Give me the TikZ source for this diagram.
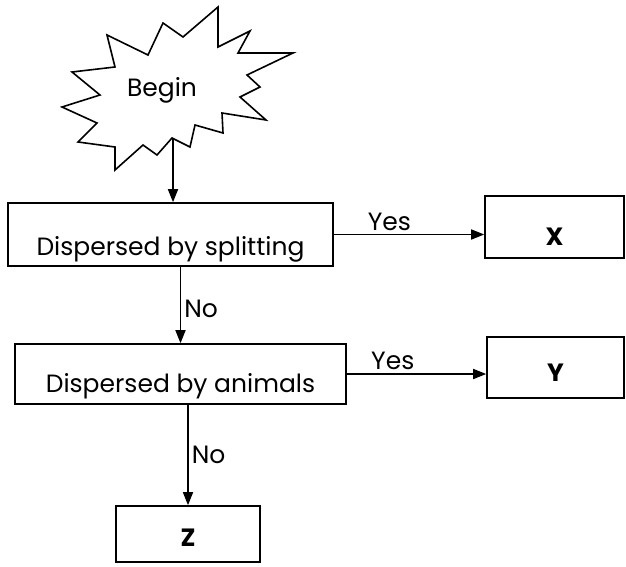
\documentclass[tikz,border=0pt]{standalone}
\usepackage{fontspec}
\setmainfont{Poppins}
\usetikzlibrary{arrows.meta, positioning}

\tikzset{
  box/.style={draw, line width=0.8pt, text depth=0pt, inner sep=2pt},
  flow/.style={line width=0.8pt, -{Triangle[length=6.5pt, width=5pt]}},
  answer/.style={font=\fontsize{12.5}{15}\selectfont, inner sep=1.5pt}
}

\begin{document}
\begin{tikzpicture}[x=0.5pt, y=-0.5pt, font=\fontsize{12.5}{15}\selectfont]
                \useasboundingbox (0,0) rectangle (626,567);

                \draw[line width=0.8pt, line join=miter] (107,35) -- (148,55) -- (163,23) -- (183,37) -- (218,7) -- (218,47)
                    -- (250,31) -- (238,53) -- (293,53) -- (247,75) -- (260,87) -- (240,97) -- (266,120)
                    -- (222,113) -- (223,133) -- (195,125) -- (190,147) -- (172,138) -- (157,155)
                    -- (143,145) -- (115,170) -- (115,147) -- (78,142) -- (97,123) -- (62,107)
                    -- (100,95) -- (72,72) -- (115,67) -- cycle;
                \node (begin) at (162,90) {Begin};
                \coordinate (burst) at (173,138);

                \node[box, minimum width=162.5pt, minimum height=31.5pt, text height=20.5pt] (split) at (170.5,234.5) {Dispersed by splitting};
                \node[box, minimum width=165.5pt, minimum height=30pt, text height=18pt] (animals) at (180.5,374) {Dispersed by animals};
                \node[box, minimum width=69.5pt, minimum height=31pt, text height=18pt, font=\fontsize{12.5}{15}\selectfont\bfseries] (x) at (554.5,227) {X};
                \node[box, minimum width=68.5pt, minimum height=30.5pt, text height=13.5pt, font=\fontsize{12.5}{15}\selectfont\bfseries] (y) at (555.5,367.5) {Y};
                \node[box, minimum width=72pt, minimum height=28pt, text height=12pt, font=\fontsize{12.5}{15}\selectfont\bfseries] (z) at (188,534) {Z};

                \draw[flow] (burst) -- (burst |- split.north);
                \draw[flow] (split.east) -- node[answer, pos=0.37, above] {Yes} (split.east -| x.west);
                \draw[flow] (split.south -| animals.north) -- node[answer, pos=0.55, right] {No} (animals.north);
                \draw[flow] (animals.east) -- node[answer, pos=0.33, above] {Yes} (animals.east -| y.west);
                \draw[flow] (animals.south -| z.north) -- node[answer, pos=0.5, right] {No} (z.north);
            \end{tikzpicture}
\end{document}
